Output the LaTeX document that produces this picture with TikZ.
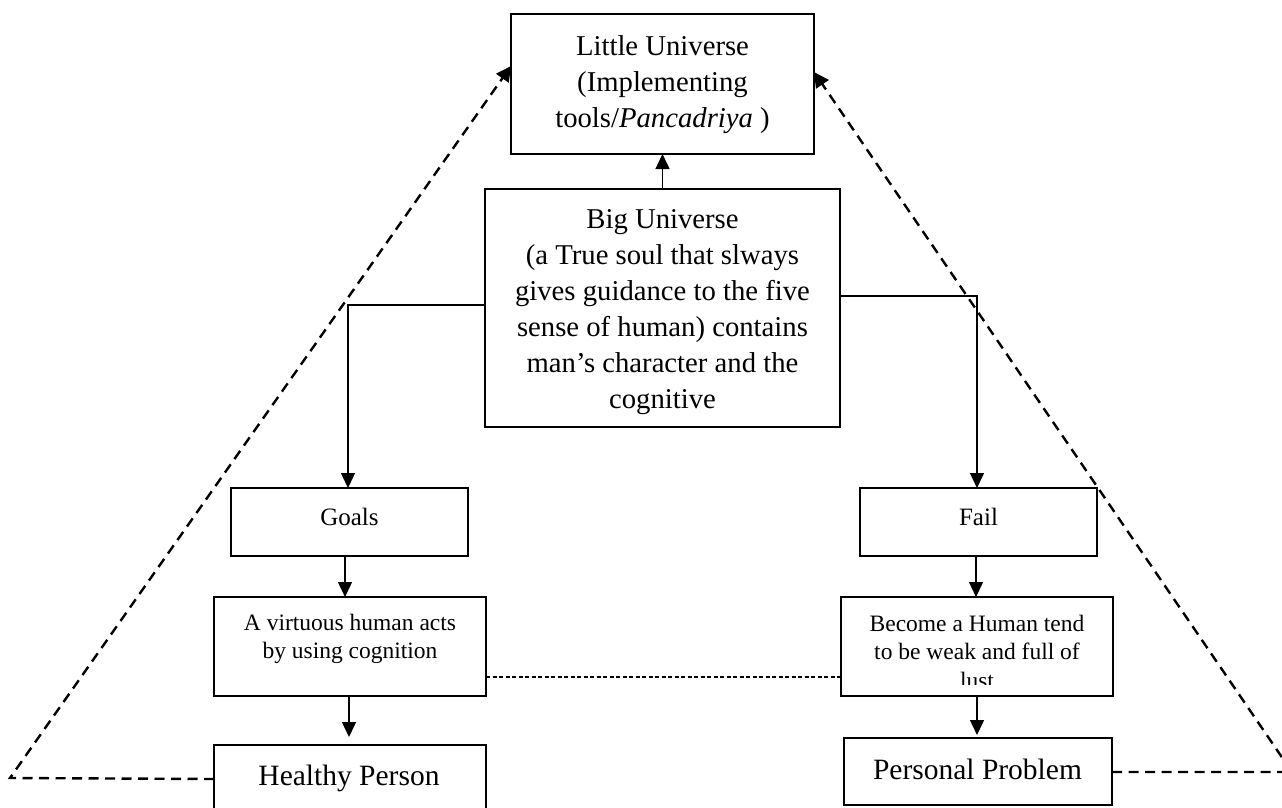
\documentclass[tikz,border=0pt]{standalone}
\usepackage{fontspec}
\setmainfont{Liberation Serif}
\usetikzlibrary{arrows.meta}
\begin{document}
\begin{tikzpicture}[x=1pt,y=-1pt,
  box/.style={draw, line width=1.5pt, inner sep=0pt, outer sep=0pt},
  txtbig/.style={inner sep=0pt, align=center, font=\fontsize{28.7}{36}\selectfont},
  txtmid/.style={inner sep=0pt, align=center, font=\fontsize{25}{30}\selectfont},
  txtsmall/.style={inner sep=0pt, align=center, font=\fontsize{23.5}{28.5}\selectfont},
  txtlarge/.style={inner sep=0pt, align=center, font=\fontsize{29.5}{36}\selectfont},
  conn/.style={line width=1.4pt, -{Triangle[width=14pt,length=15pt]}},
  tri/.style={line width=2.4pt, dash pattern=on 10pt off 6.5pt, -{Triangle[width=15pt,length=15pt]}},
  middash/.style={line width=1.4pt, dash pattern=on 4pt off 2.5pt}]
\fill[white] (0,0) rectangle (1282,807);
\useasboundingbox (0,0) rectangle (1282,807);

% boxes
\node[box, minimum width=303pt, minimum height=140pt] (little) at (662.5,84) {};
\node[box, minimum width=355pt, minimum height=238pt] (big) at (662.5,308) {};
\node[box, minimum width=237pt, minimum height=68pt] (goals) at (349.5,522) {};
\node[box, minimum width=237pt, minimum height=68pt] (fail) at (978.5,522) {};
\node[box, minimum width=272pt, minimum height=99pt] (virt) at (350,646.5) {};
\node[box, minimum width=272pt, minimum height=99pt] (become) at (977,646.5) {};
\node[box, minimum width=272pt, minimum height=70pt] (healthy) at (350,780) {};
\node[box, minimum width=268pt, minimum height=67pt] (personal) at (978,771.5) {};

% texts
\node[txtbig] (littletext) at (662.5,84.5) {Little Universe\\(Implementing\\tools/\textit{Pancadriya} )};
\node[txtbig] (bigtext) at (662.5,312.5) {Big Universe\\(a True soul that slways\\gives guidance to the five\\sense of human) contains\\man’s character and the\\cognitive};
\node[txtmid] (goalstext) at (349.5,516.5) {Goals};
\node[txtmid] (failtext) at (978.5,516.5) {Fail};
\node[txtsmall] (virttext) at (350,639) {A virtuous human acts\\by using cognition};
\begin{scope}
  \clip (841,597) rectangle (1113,684);
  \node[txtsmall] (becometext) at (977,651.5) {Become a Human tend\\to be weak and full of\\lust};
\end{scope}
\node[txtlarge] (healthytext) at (349,778) {Healthy Person};
\node[txtlarge] (personaltext) at (977.5,769) {Personal Problem};

% connectors
\draw[conn] (big.north) -- (little.south);
\draw[conn] (big.west |- 0,305) -| (goals.north -| 348,0);
\draw[conn] (big.east |- 0,296) -| (fail.north -| 977,0);
\draw[conn] (goals.south -| 345,0) -- (virt.north -| 345,0);
\draw[conn, shorten >=8pt] (virt.south -| 349,0) -- (healthy.north -| 349,0);
\draw[conn] (fail.south -| 976,0) -- (become.north -| 976,0);
\draw[conn, shorten >=3pt] (become.south -| 977,0) -- (personal.north -| 977,0);

% dashed triangle
\coordinate (bl) at (10,778);
\coordinate (br) at (1292,772);
\draw[tri] (healthy.west |- 0,779) -- (bl) -- (little.west |- 0,66);
\draw[tri] (personal.east |- 0,772) -- (br) -- (little.east |- 0,72);

% middle dashed line
\draw[middash] (virt.east |- 0,677) -- (become.west |- 0,677);
\end{tikzpicture}
\end{document}
